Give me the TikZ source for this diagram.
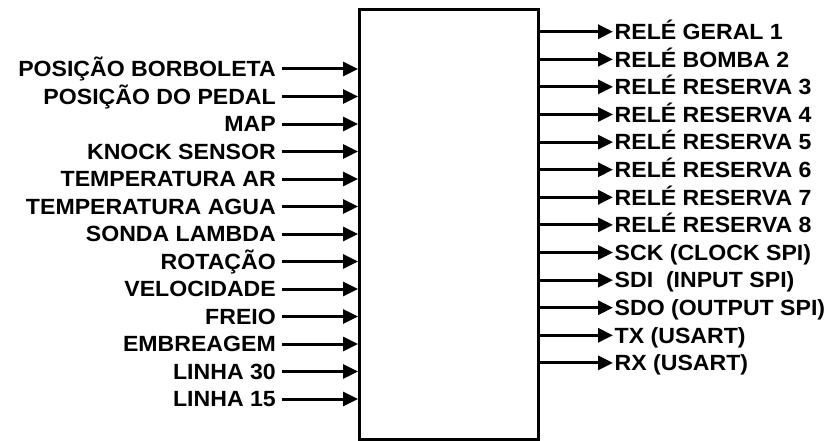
\documentclass[tikz,border=0pt]{standalone}
\usepackage{fontspec}
\setmainfont{Liberation Sans}[FakeStretch=1.05]
\usetikzlibrary{arrows.meta, positioning}

\begin{document}
\begin{tikzpicture}[x=1pt, y=-1pt,
        lbl/.style={inner xsep=3pt, inner ysep=0pt, text height=15.5pt, text depth=0pt,
            font=\fontsize{22}{22}\selectfont\bfseries},
        sig/.style={line width=3pt, -{Triangle[length=15pt, width=14pt]}}]
        \useasboundingbox (0,0) rectangle (834,441);
        \node[draw, line width=3pt, minimum width=178.5pt, minimum height=429.5pt] (ecu) at (448.75,224.25) {};

        % entradas
        \foreach \txt [count=\i] in {POSIÇÃO BORBOLETA, POSIÇÃO DO PEDAL, MAP, KNOCK SENSOR,
            TEMPERATURA AR, TEMPERATURA AGUA, SONDA LAMBDA, ROTAÇÃO, VELOCIDADE, FREIO,
            EMBREAGEM, LINHA 30, LINHA 15} {
            \node[lbl, anchor=east, inner xsep=6pt] (in\i) at (282, {69+27.5*(\i-1)}) {\txt};
            \draw[sig] (in\i.east) -- (in\i.east -| ecu.west);
        }

        % saidas
        \foreach \txt [count=\i] in {RELÉ GERAL 1, RELÉ BOMBA 2, RELÉ RESERVA 3, RELÉ RESERVA 4,
            RELÉ RESERVA 5, RELÉ RESERVA 6, RELÉ RESERVA 7, RELÉ RESERVA 8, SCK (CLOCK SPI),
            SDI~ (INPUT SPI), SDO (OUTPUT SPI), TX (USART), RX (USART)} {
            \node[lbl, anchor=west, inner xsep=1.5pt] (out\i) at (613, {31.7+27.6*(\i-1)}) {\txt};
            \draw[sig] (out\i.west -| ecu.east) -- (out\i.west);
        }
    \end{tikzpicture}
\end{document}
